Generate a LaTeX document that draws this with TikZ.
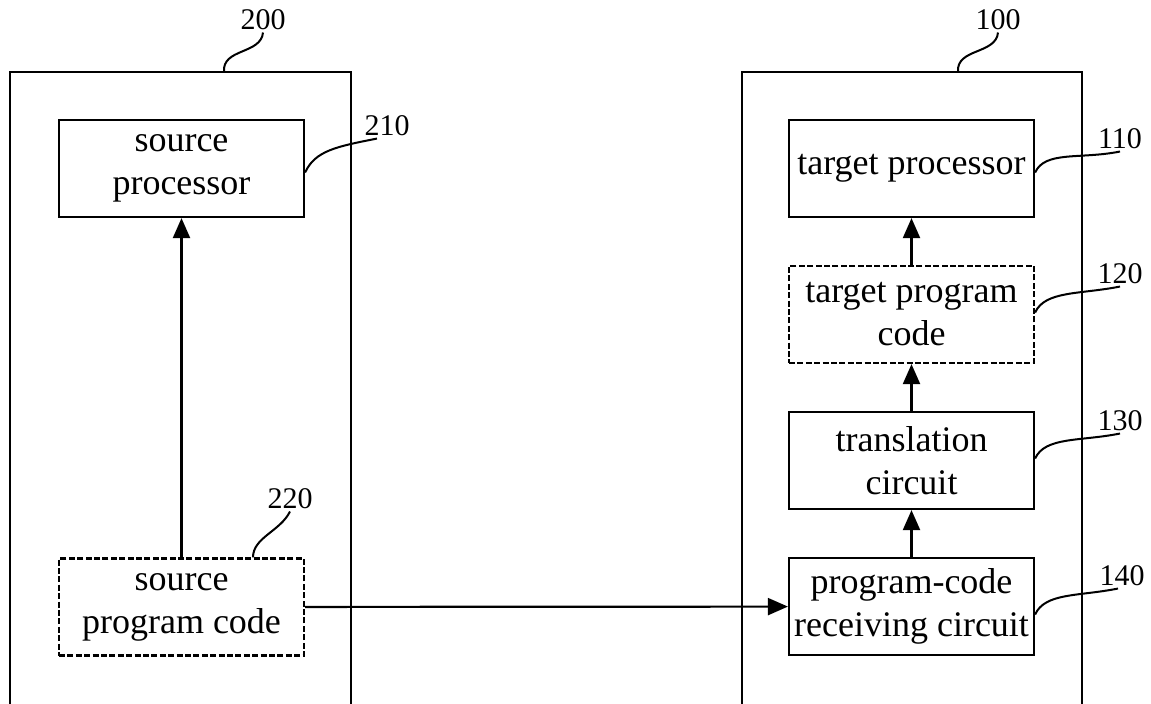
\documentclass[tikz,border=0pt]{standalone}
\usepackage{fontspec}
\setmainfont{Liberation Serif}
\usetikzlibrary{arrows.meta}
\begin{document}
\begin{tikzpicture}[x=0.5pt, y=-0.5pt, node distance={73pt},
		main/.style = {draw, rectangle, line width=1.1pt, minimum width=122.5pt, minimum height=48.5pt, inner sep=0pt, align=center, font=\fontsize{18}{21.5}\selectfont},
		code/.style = {main, dash pattern=on 3pt off 1.2pt},
		num/.style = {inner sep=1pt, font=\fontsize{15}{18}\selectfont},
		lead/.style = {line width=1pt},
		flow/.style = {line width=1.1pt, -{Triangle[length=10pt,width=8.5pt]}}]
		\useasboundingbox (0,0) rectangle (1151,703);
		\clip (0,0) rectangle (1151,703);
		% outer devices
		\draw[line width=1.1pt] (10,72) rectangle (351,720);
		\draw[line width=1.1pt] (742,72) rectangle (1082,720);
		\coordinate (t200) at (224,72);
		\coordinate (t100) at (958,72);
		% source side
		\node[main] (p210) at (181.5,168.5) {source\\processor};
		\node[code] (p220) at (181.5,607) {source\\program code};
		% target side
		\node[main] (p110) at (911.5,168.5) {target processor};
		\node[code] (p120) [below of=p110] {target program\\code};
		\node[main] (p130) [below of=p120] {translation\\circuit};
		\node[main] (p140) [below of=p130] {program-code\\receiving circuit};
		% reference numbers
		\node[num] (n200) at (263,20) {200};
		\node[num] (n100) at (998,20) {100};
		\node[num] (n210) at (387,126) {210};
		\node[num] (n220) at (290,499) {220};
		\node[num] (n110) at (1120,139) {110};
		\node[num] (n120) at (1120,274) {120};
		\node[num] (n130) at (1120,421) {130};
		\node[num] (n140) at (1122,576) {140};
		% leaders
		\draw[lead] (t200) .. controls +(-2,-24) and +(-2,22) .. (n200.south);
		\draw[lead] (t100) .. controls +(-2,-24) and +(-2,22) .. (n100.south);
		\draw[lead] ([yshift=-2pt]p210.east) .. controls +(10,-22) and +(-40,8) .. ([xshift=-5pt]n210.south);
		\draw[lead] ([xshift=35.75pt]p220.north) .. controls +(0,-20) and +(-10,20) .. (n220.south);
		\draw[lead] ([yshift=-2pt]p110.east) .. controls +(10,-22) and +(-40,8) .. (n110.south);
		\draw[lead] ([yshift=1pt]p120.east) .. controls +(10,-22) and +(-40,8) .. (n120.south);
		\draw[lead] ([yshift=1pt]p130.east) .. controls +(10,-22) and +(-40,8) .. (n130.south);
		\draw[lead] ([yshift=-4pt]p140.east) .. controls +(10,-22) and +(-40,8) .. ([xshift=-2pt]n140.south);
		% data flow
		\draw[flow] (p220) -- (p210);
		\draw[flow] (p220) -- (p140);
		\draw[flow] (p140) -- (p130);
		\draw[flow] (p130) -- (p120);
		\draw[flow] (p120) -- (p110);
	\end{tikzpicture}
\end{document}
